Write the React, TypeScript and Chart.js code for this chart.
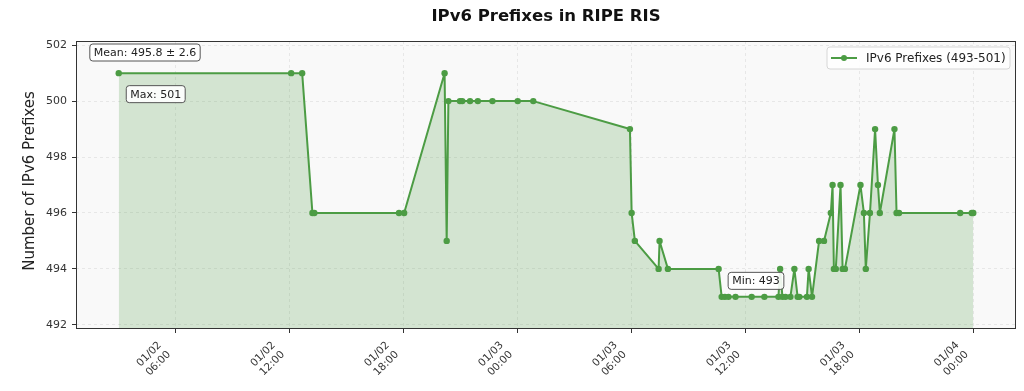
import React, { useEffect, useRef } from "react";
import { Chart, registerables } from "chart.js";

Chart.register(...registerables);

// hours since 01/02 00:00
const hours = [
  3.0, 12.08, 12.66, 13.2, 13.3, 17.76, 18.03, 20.16, 20.27, 20.36,
  20.97, 21.09, 21.5, 21.91, 22.68, 24.01, 24.83, 29.92, 30.01, 30.18,
  31.43, 31.48, 31.92, 34.59, 34.75, 34.92, 35.11, 35.48, 36.33, 37.0,
  37.74, 37.83, 37.95, 38.11, 38.37, 38.58, 38.75, 38.84, 39.24, 39.33,
  39.51, 39.88, 40.14, 40.5, 40.59, 40.66, 40.76, 41.01, 41.12, 41.24,
  42.06, 42.24, 42.34, 42.56, 42.83, 42.98, 43.08, 43.85, 43.96, 44.09,
  47.31, 47.92, 48.0,
];
const prefixes = [
  501, 501, 501, 496, 496, 496, 496, 501, 495, 500,
  500, 500, 500, 500, 500, 500, 500, 499, 496, 495,
  494, 495, 494, 494, 493, 493, 493, 493, 493, 493,
  493, 494, 493, 493, 493, 494, 493, 493, 493, 494,
  493, 495, 495, 496, 497, 494, 494, 497, 494, 494,
  497, 496, 494, 496, 499, 497, 496, 499, 496, 496,
  496, 496, 496,
];

const xTickHours = [6, 12, 18, 24, 30, 36, 42, 48];
const xTickLabels = [
  ["01/02", "06:00"],
  ["01/02", "12:00"],
  ["01/02", "18:00"],
  ["01/03", "00:00"],
  ["01/03", "06:00"],
  ["01/03", "12:00"],
  ["01/03", "18:00"],
  ["01/04", "00:00"],
];
const yTickValues = [492, 494, 496, 498, 500, 502];

const chartTitle = "IPv6 Prefixes in RIPE RIS";
const yAxisTitle = "Number of IPv6 Prefixes";
const legendLabel = "IPv6 Prefixes (493-501)";
const meanText = "Mean: 495.8 ± 2.6";
const maxText = "Max: 501";
const minText = "Min: 493";

const LINE = "#4c9c44";
const FILL = "rgba(76,156,68,0.22)";
const FONT = "'DejaVu Sans', sans-serif";

function roundRect(ctx: CanvasRenderingContext2D, x: number, y: number, w: number, h: number, r: number) {
  ctx.beginPath();
  ctx.moveTo(x + r, y);
  ctx.lineTo(x + w - r, y);
  ctx.quadraticCurveTo(x + w, y, x + w, y + r);
  ctx.lineTo(x + w, y + h - r);
  ctx.quadraticCurveTo(x + w, y + h, x + w - r, y + h);
  ctx.lineTo(x + r, y + h);
  ctx.quadraticCurveTo(x, y + h, x, y + h - r);
  ctx.lineTo(x, y + r);
  ctx.quadraticCurveTo(x, y, x + r, y);
  ctx.closePath();
}

function labelBox(ctx: CanvasRenderingContext2D, text: string, cx: number, cy: number) {
  ctx.save();
  ctx.font = `11px ${FONT}`;
  const w = ctx.measureText(text).width + 8;
  const h = 17;
  roundRect(ctx, cx - w / 2, cy - h / 2, w, h, 3);
  ctx.fillStyle = "rgba(255,255,255,0.9)";
  ctx.fill();
  ctx.strokeStyle = "#555";
  ctx.lineWidth = 1;
  ctx.stroke();
  ctx.fillStyle = "#222";
  ctx.textAlign = "center";
  ctx.textBaseline = "middle";
  ctx.fillText(text, cx, cy + 0.5);
  ctx.restore();
}

const decorPlugin = {
  id: "decor",
  beforeDraw(chart: any) {
    const { ctx, chartArea: a } = chart;
    ctx.save();
    ctx.fillStyle = "#ffffff";
    ctx.fillRect(0, 0, chart.width, chart.height);
    ctx.fillStyle = "#f9f9f9";
    ctx.fillRect(a.left, a.top, a.right - a.left, a.bottom - a.top);
    ctx.restore();
  },
  afterDraw(chart: any) {
    const { ctx, chartArea: a, scales } = chart;
    const xs = scales.x;
    const ys = scales.y;
    ctx.save();
    // frame
    ctx.strokeStyle = "#333";
    ctx.lineWidth = 1;
    ctx.strokeRect(a.left + 0.5, a.top + 0.5, a.right - a.left - 1, a.bottom - a.top - 1);
    // title
    ctx.fillStyle = "#111";
    ctx.font = `bold 16.5px ${FONT}`;
    ctx.textAlign = "center";
    ctx.textBaseline = "middle";
    ctx.fillText(chartTitle, (a.left + a.right) / 2, 17);
    // y title
    ctx.save();
    ctx.translate(30, (a.top + a.bottom) / 2 - 4);
    ctx.rotate(-Math.PI / 2);
    ctx.font = `15px ${FONT}`;
    ctx.fillStyle = "#222";
    ctx.fillText(yAxisTitle, 0, 0);
    ctx.restore();
    // x tick labels (rotated 45°, right-aligned bounding box)
    ctx.font = `10.5px ${FONT}`;
    ctx.fillStyle = "#333";
    const lh = 13;
    const c = Math.SQRT1_2;
    xTickHours.forEach((hv, i) => {
      const lines = xTickLabels[i];
      const W = Math.max(...lines.map((l) => ctx.measureText(l).width));
      const Hb = lines.length * lh;
      const ex = (W / 2) * c + (Hb / 2) * c;
      const tx = xs.getPixelForValue(hv);
      const cx = tx - 2 - ex;
      const cy = a.bottom + 10 + ex;
      ctx.save();
      ctx.translate(cx, cy);
      ctx.rotate(-Math.PI / 4);
      ctx.textAlign = "center";
      ctx.textBaseline = "middle";
      lines.forEach((l, k) => {
        ctx.fillText(l, 0, (k - (lines.length - 1) / 2) * lh);
      });
      ctx.restore();
    });
    // annotations
    labelBox(ctx, meanText, 145, 52.5);
    labelBox(ctx, maxText, xs.getPixelForValue(hours[0]) + 37, ys.getPixelForValue(501) + 21);
    labelBox(ctx, minText, 756, ys.getPixelForValue(493) - 16);
    // legend
    const lx = 827, ly = 47, lw = 183, lhh = 22;
    roundRect(ctx, lx, ly, lw, lhh, 3);
    ctx.fillStyle = "rgba(255,255,255,0.85)";
    ctx.fill();
    ctx.strokeStyle = "#d6d6d6";
    ctx.lineWidth = 1;
    ctx.stroke();
    const my = ly + lhh / 2;
    ctx.strokeStyle = LINE;
    ctx.lineWidth = 2;
    ctx.beginPath();
    ctx.moveTo(831, my);
    ctx.lineTo(857, my);
    ctx.stroke();
    ctx.fillStyle = LINE;
    ctx.beginPath();
    ctx.arc(844, my, 3, 0, Math.PI * 2);
    ctx.fill();
    ctx.fillStyle = "#222";
    ctx.font = `12px ${FONT}`;
    ctx.textAlign = "left";
    ctx.textBaseline = "middle";
    ctx.fillText(legendLabel, 866, my + 0.5);
    ctx.restore();
  },
};

export default function App() {
  const ref = useRef<HTMLCanvasElement | null>(null);
  useEffect(() => {
    if (!ref.current) return;
    const data = hours.map((h, i) => ({ x: h, y: prefixes[i] }));
    const chart = new Chart(ref.current, {
      type: "line",
      data: {
        datasets: [
          {
            label: legendLabel,
            data,
            borderColor: LINE,
            backgroundColor: FILL,
            pointBackgroundColor: LINE,
            pointBorderWidth: 0,
            pointRadius: 3.2,
            borderWidth: 2,
            borderJoinStyle: "round",
            borderCapStyle: "round",
            tension: 0,
            fill: "start",
          },
        ],
      },
      options: {
        animation: false,
        responsive: false,
        devicePixelRatio: 1,
        layout: { padding: { top: 41, right: 8, left: 0, bottom: 0 } },
        plugins: {
          legend: { display: false },
          title: { display: false },
          tooltip: { enabled: false },
        },
        scales: {
          x: {
            type: "linear",
            min: 0.75,
            max: 50.25,
            afterBuildTicks: (s: any) => {
              s.ticks = xTickHours.map((v) => ({ value: v }));
            },
            afterFit: (s: any) => {
              s.height = 62;
            },
            ticks: {
              display: false,
              autoSkip: false,
            },
            grid: {
              color: "rgba(0,0,0,0.07)",
              tickColor: "#333",
              tickLength: 4,
              drawTicks: true,
            },
            border: { display: false, dash: [3, 3] },
          },
          y: {
            min: 491.85,
            max: 502.15,
            afterBuildTicks: (s: any) => {
              s.ticks = yTickValues.map((v) => ({ value: v }));
            },
            afterFit: (s: any) => {
              s.width = 76;
            },
            ticks: {
              padding: 5,
              color: "#333",
              font: { family: FONT, size: 11 },
              callback: (v: any) => String(v),
            },
            grid: {
              color: "rgba(0,0,0,0.07)",
              tickColor: "#333",
              tickLength: 4,
              drawTicks: true,
            },
            border: { display: false, dash: [3, 3] },
          },
        },
      },
      plugins: [decorPlugin],
    });
    return () => chart.destroy();
  }, []);
  return (
    <div style={{ position: "fixed", left: 0, top: 0, width: 1024, height: 391, background: "#fff" }}>
      <canvas ref={ref} width={1024} height={391} style={{ display: "block" }} />
    </div>
  );
}
